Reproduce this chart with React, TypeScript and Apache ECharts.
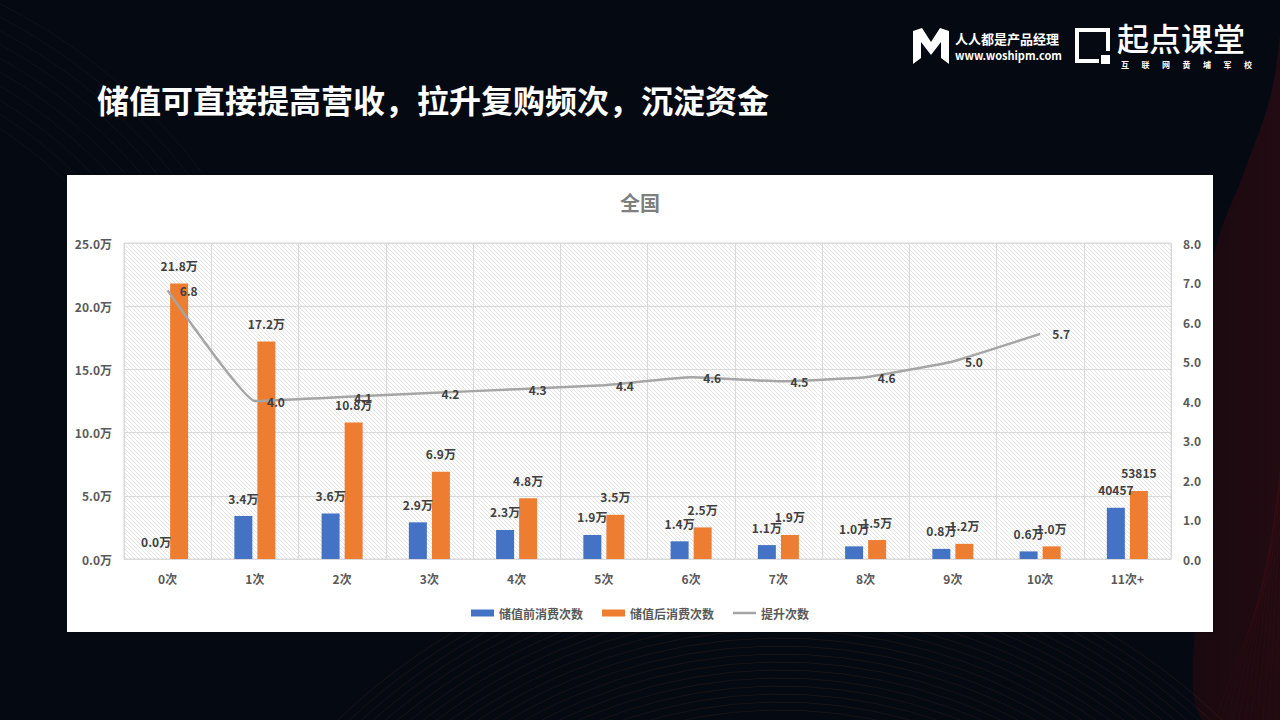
import React, { useEffect, useRef } from 'react';
import * as echarts from 'echarts';

const categories = ['0次', '1次', '2次', '3次', '4次', '5次', '6次', '7次', '8次', '9次', '10次', '11次+'];
const beforeCounts = [0, 34000, 36000, 29000, 23000, 19000, 14000, 11000, 10000, 8000, 6000, 40457];
const afterCounts = [218000, 172000, 108000, 69000, 48000, 35000, 25000, 19000, 15000, 12000, 10000, 53815];
const liftTimes: (number | null)[] = [6.8, 4.0, 4.1, 4.2, 4.3, 4.4, 4.6, 4.5, 4.6, 5.0, 5.7, null];
const rawLabelIndex = 11;
const sloganChars = ['互', '联', '网', '黄', '埔', '军', '校'];

const FONT = '"Noto Sans CJK SC", "Noto Sans", sans-serif';

// plot-area frame (pixels)
const G = { left: 124, right: 109, top: 243, bottom: 161 };

function wanLabel(v: number, idx: number) {
  if (idx === rawLabelIndex) return String(v);
  return (v / 10000).toFixed(1) + '万';
}

export default function App() {
  const ref = useRef<HTMLDivElement>(null);
  useEffect(() => {
    if (!ref.current) return;
    const chart = echarts.init(ref.current, undefined, { renderer: 'svg' });

    // hatch texture inside the plot area (decoration)
    const x0 = G.left, x1 = 1280 - G.right, y0 = G.top, y1 = 720 - G.bottom;
    const hatch: any[] = [];
    const step = 4;
    for (let k = y0 - x1; k <= y1 - x0; k += step) {
      const ax = Math.max(x0, y0 - k), bx = Math.min(x1, y1 - k);
      if (bx <= ax) continue;
      hatch.push({
        type: 'line', silent: true, z: -5,
        shape: { x1: ax, y1: ax + k, x2: bx, y2: bx + k },
        style: { stroke: '#e4e4e4', lineWidth: 1 },
      });
    }

    const bgLines: any[] = [];
    for (let i = 0; i < 22; i++) {
      bgLines.push({
        type: 'arc', silent: true, z: -20,
        shape: { cx: 780, cy: 1180, r: 470 + i * 8, startAngle: Math.PI * 1.0, endAngle: Math.PI * 1.75 },
        style: { stroke: 'rgba(120,80,60,0.16)', lineWidth: 1, fill: null },
      });
    }
    for (let i = 0; i < 10; i++) {
      bgLines.push({
        type: 'arc', silent: true, z: -20,
        shape: { cx: -260, cy: 520, r: 470 + i * 12, startAngle: Math.PI * 1.5, endAngle: Math.PI * 1.9 },
        style: { stroke: 'rgba(255,255,255,0.035)', lineWidth: 1, fill: null },
      });
    }
    for (let i = 0; i < 14; i++) {
      bgLines.push({
        type: 'line', silent: true, z: -19,
        shape: { x1: 1215 + i * 6, y1: 720, x2: 1290, y2: 520 - i * 22 },
        style: { stroke: 'rgba(140,30,40,0.09)', lineWidth: 1 },
      });
    }

    const slogan = sloganChars.map((ch, i) => ({
      type: 'text', left: 1121 + i * 20.5, top: 60,
      style: { text: ch, fill: '#ffffff', font: `bold 8px ${FONT}`, lineHeight: 8 },
    }));

    const labelStyle = { color: '#404040', fontSize: 12, fontWeight: 'bold', fontFamily: FONT };

    const option: any = {
      animation: false,
      backgroundColor: '#050912',
      textStyle: { fontFamily: FONT },
      graphic: [
        {
          type: 'polygon', silent: true, z: -21,
          shape: {
            smooth: 0.4,
            points: [[1285, 0], [1272, 90], [1245, 170], [1218, 240], [1200, 330], [1192, 450], [1195, 600], [1205, 725], [1285, 725]],
          },
          style: {
            fill: {
              type: 'linear', x: 0, y: 0, x2: 1, y2: 0,
              colorStops: [
                { offset: 0, color: '#1a0910' },
                { offset: 1, color: '#240b12' },
              ],
            },
          },
        },
        ...bgLines,
        {
          type: 'rect', silent: true, z: -10,
          shape: { x: 67, y: 175, width: 1146, height: 457 },
          style: { fill: '#ffffff', shadowBlur: 4, shadowColor: 'rgba(0,0,0,0.4)' },
        },
        ...hatch,
        {
          type: 'text', left: 97, top: 83,
          style: { text: '储值可直接提高营收，拉升复购频次，沉淀资金', fill: '#ffffff', font: `bold 32px ${FONT}` },
        },
        {
          type: 'text', left: 'center', top: 192,
          style: { text: '全国', fill: '#7f7f7f', font: `bold 20px ${FONT}` },
        },
        {
          type: 'polygon', silent: true,
          shape: { points: [[913, 64], [913, 31], [922, 28], [931, 42], [940, 28], [949, 31], [949, 64], [941, 58], [941, 42], [931, 55], [921, 42], [921, 58]] },
          style: { fill: '#ffffff' },
        },
        {
          type: 'text', left: 955, top: 32,
          style: { text: '人人都是产品经理', fill: '#ffffff', font: `bold 13px ${FONT}` },
        },
        {
          type: 'text', left: 955, top: 49,
          style: { text: 'www.woshipm.com', fill: '#ffffff', font: `bold 11px ${FONT}` },
        },
        {
          type: 'polyline', silent: true,
          shape: { points: [[1099, 61], [1077, 61], [1077, 30], [1108, 30], [1108, 51]] },
          style: { stroke: '#ffffff', lineWidth: 4, fill: null },
        },
        {
          type: 'rect', silent: true,
          shape: { x: 1101, y: 55, width: 9, height: 9 },
          style: { fill: '#ffffff' },
        },
        {
          type: 'text', left: 1117, top: 21,
          style: { text: '起点课堂', fill: '#ffffff', font: `500 32px ${FONT}`, lineHeight: 32 },
        },
        ...slogan,
      ],
      legend: {
        top: 602,
        left: 'center',
        itemWidth: 23,
        itemHeight: 7,
        itemGap: 19,
        textStyle: { color: '#595959', fontSize: 12, fontWeight: 'bold', fontFamily: FONT },
        data: [
          { name: '储值前消费次数', icon: 'rect' },
          { name: '储值后消费次数', icon: 'rect' },
          { name: '提升次数', icon: 'path://M0,0 L0.01,0 M0,2.3 L24,2.3 L24,4.7 L0,4.7 Z M24,7 L23.99,7' },
        ],
      },
      grid: {
        left: G.left,
        right: G.right,
        top: G.top,
        bottom: G.bottom,
        show: true,
        backgroundColor: 'transparent',
        borderColor: '#d9d9d9',
        borderWidth: 1,
        containLabel: false,
      },
      xAxis: {
        type: 'category',
        data: categories,
        axisLine: { show: true, lineStyle: { color: '#d9d9d9', width: 1 } },
        axisTick: { show: false },
        splitLine: { show: true, lineStyle: { color: '#d9d9d9', width: 1 } },
        axisLabel: { color: '#595959', fontSize: 12, fontWeight: 'bold', margin: 13, fontFamily: FONT },
      },
      yAxis: [
        {
          type: 'value',
          min: 0,
          max: 250000,
          interval: 50000,
          axisLine: { show: false },
          axisTick: { show: false },
          splitLine: { show: true, lineStyle: { color: '#d9d9d9', width: 1 } },
          axisLabel: {
            color: '#595959', fontSize: 12, fontWeight: 'bold', margin: 12, fontFamily: FONT,
            formatter: (v: number) => (v / 10000).toFixed(1) + '万',
          },
        },
        {
          type: 'value',
          min: 0,
          max: 8,
          interval: 1,
          axisLine: { show: false },
          axisTick: { show: false },
          splitLine: { show: false },
          axisLabel: {
            color: '#595959', fontSize: 12, fontWeight: 'bold', margin: 12, fontFamily: FONT,
            formatter: (v: number) => v.toFixed(1),
          },
        },
      ],
      series: [
        {
          name: '储值前消费次数',
          type: 'bar',
          data: beforeCounts,
          barWidth: 18,
          barGap: '28%',
          itemStyle: { color: '#4472C4' },
          label: {
            show: true, position: 'top', distance: 12, ...labelStyle,
            formatter: (p: any) => wanLabel(p.value, p.dataIndex),
          },
        },
        {
          name: '储值后消费次数',
          type: 'bar',
          data: afterCounts,
          barWidth: 18,
          barGap: '28%',
          itemStyle: { color: '#ED7D31' },
          label: {
            show: true, position: 'top', distance: 12, ...labelStyle,
            formatter: (p: any) => wanLabel(p.value, p.dataIndex),
          },
        },
        {
          name: '提升次数',
          type: 'line',
          yAxisIndex: 1,
          data: liftTimes,
          symbol: 'circle',
          symbolSize: 0,
          showSymbol: true,
          smooth: 0.1,
          z: 5,
          lineStyle: { color: '#A5A5A5', width: 2.5 },
          itemStyle: { color: '#A5A5A5' },
          label: {
            show: true, position: 'right', distance: 12, ...labelStyle,
            formatter: (p: any) => (p.value == null ? '' : Number(p.value).toFixed(1)),
          },
        },
      ],
    };
    chart.setOption(option);
    return () => chart.dispose();
  }, []);
  return <div ref={ref} style={{ position: 'absolute', left: 0, top: 0, width: 1280, height: 720 }} />;
}
